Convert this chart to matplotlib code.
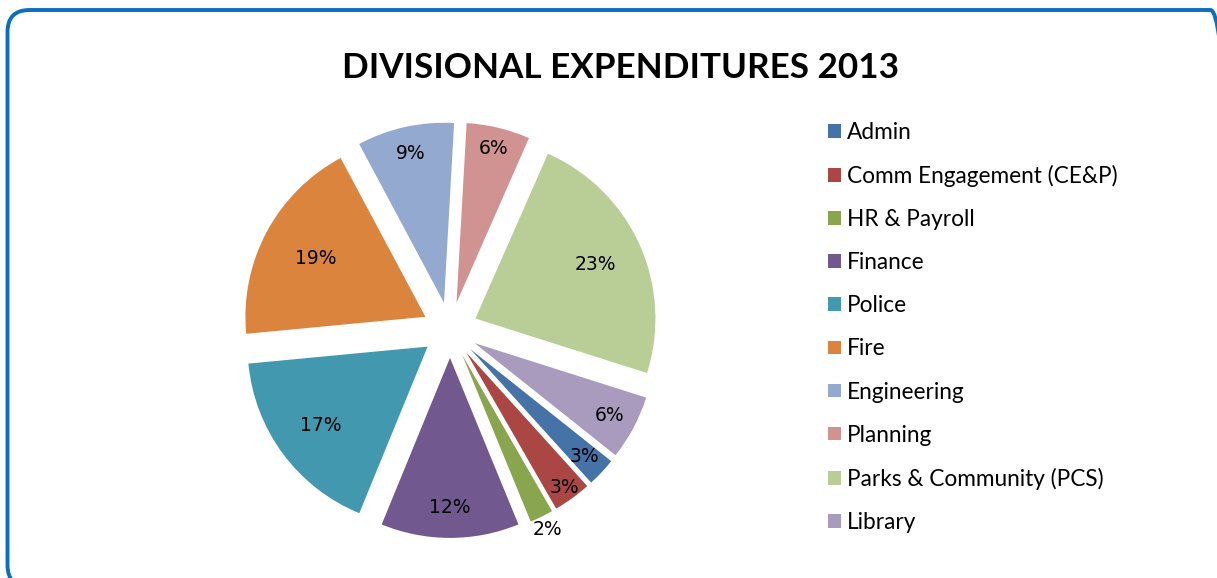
import matplotlib.pyplot as plt
import numpy as np
from matplotlib.patches import FancyBboxPatch

divisions = ["Admin", "Comm Engagement (CE&P)", "HR & Payroll", "Finance", "Police",
             "Fire", "Engineering", "Planning", "Parks & Community (PCS)", "Library"]
shares = [2.6, 3.4, 2.1, 12.4, 17.3, 18.7, 8.7, 5.7, 23.3, 5.8]
colors = ["#4572A7", "#AA4643", "#89A54E", "#71588F", "#4198AF",
          "#DB843D", "#93A9CF", "#D19392", "#B9CD96", "#A99BBD"]
# how far out each % label sits from its wedge tip (in radii)
label_dist = [0.87, 0.93, 1.08, 0.83, 0.74, 0.69, 0.85, 0.88, 0.73, 0.85]

fig = plt.figure(figsize=(12.17, 5.78), dpi=100)

# rounded blue frame, runs off the right and bottom edges
frame = FancyBboxPatch((0.075, -0.09), 12.25, 5.77,
                       boxstyle="round,pad=0,rounding_size=0.22",
                       transform=fig.dpi_scale_trans, facecolor="none",
                       edgecolor="#0B6FBE", linewidth=2.8, clip_on=False)
fig.add_artist(frame)

fig.text(620 / 1217, 1 - 68 / 578, "DIVISIONAL EXPENDITURES 2013",
         ha="center", va="center", fontsize=25.2, fontweight="bold", family="Lato")

ax = fig.add_axes([216 / 1217, 14 / 578, 468 / 1217, 468 / 578])
wedges, texts, autotexts = ax.pie(
    shares, colors=colors, startangle=-38.5, counterclock=False,
    explode=[0.155] * len(shares), autopct="%.0f%%",
    wedgeprops=dict(linewidth=0),
    textprops=dict(fontsize=13.5, family="DejaVu Sans", color="black"))

for w, t, d in zip(wedges, autotexts, label_dist):
    theta = np.deg2rad((w.theta1 + w.theta2) / 2)
    cx, cy = w.center
    t.set_position((cx + d * np.cos(theta), cy + d * np.sin(theta)))

ax.set_xlim(-1.3, 1.3)
ax.set_ylim(-1.3, 1.3)
ax.set_aspect("equal")

ax.legend(wedges, divisions, loc="upper left",
          bbox_to_anchor=(828 / 1217, 1 - 122 / 578), bbox_transform=fig.transFigure,
          frameon=False, prop=dict(family="Lato", size=16.3),
          handlelength=0.56, handleheight=0.56, handletextpad=0.27,
          labelspacing=0.975, borderpad=0, borderaxespad=0)

fig.savefig("out.png", dpi=100)
